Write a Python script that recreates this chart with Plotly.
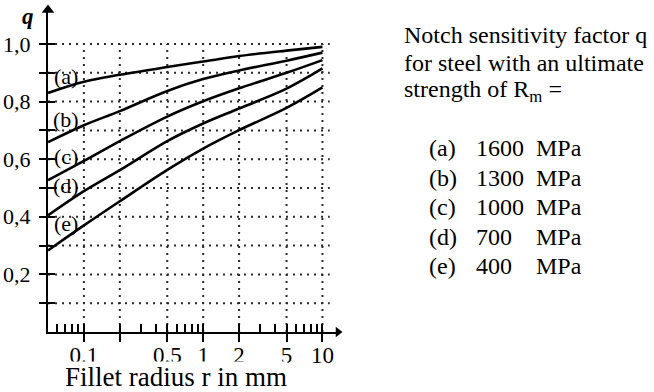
import math
import plotly.graph_objects as go

# ---------------- data ----------------
r_mm = [0.05, 0.1, 0.2, 0.5, 1, 2, 5, 10]
q_a = [0.830, 0.869, 0.893, 0.920, 0.939, 0.958, 0.977, 0.990]
q_b = [0.659, 0.718, 0.767, 0.837, 0.878, 0.908, 0.942, 0.970]
q_c = [0.527, 0.594, 0.663, 0.748, 0.801, 0.846, 0.900, 0.944]
q_d = [0.405, 0.489, 0.562, 0.663, 0.724, 0.776, 0.845, 0.915]
q_e = [0.283, 0.370, 0.454, 0.563, 0.637, 0.701, 0.778, 0.849]

curve_labels = ["(a)", "(b)", "(c)", "(d)", "(e)"]
strengths = ["1600", "1300", "1000", "700", "400"]
unit = "MPa"

x_major = [0.1, 0.2, 0.5, 1, 2, 5, 10]
x_major_text = ["0.1", " ", "0.5", "1", "2", "5", "10"]
x_minor = [0.06, 0.07, 0.08, 0.09, 0.3, 0.4, 0.6, 0.7, 0.8, 0.9, 3, 4, 6, 7, 8, 9]
y_ticks = [0.1, 0.2, 0.3, 0.4, 0.5, 0.6, 0.7, 0.8, 0.9, 1.0]
y_tick_text = [" ", "0,2", " ", "0,4", " ", "0,6", " ", "0,8", " ", "1,0"]

x_axis_min, x_axis_max = 0.05, 13.5
y_axis_min, y_axis_max = 0.0, 1.118
grid_x_end = 11.5
grid_y_end = 1.0

# ---------------- layout geometry ----------------
W, H = 654, 392
L, R, T, B = 48, 316, 10, 60
PW, PH = W - L - R, H - T - B


def px(x, y):
    return (x - L) / PW, (H - B - y) / PH


SERIF = "Liberation Serif, Times New Roman, serif"
fig = go.Figure()

# dotted grid (main subplot)
gx, gy = [], []
for yv in y_ticks:
    gx += [x_axis_min, grid_x_end, None]
    gy += [yv, yv, None]
for xv in x_major:
    gx += [xv, xv, None]
    gy += [y_axis_min, grid_y_end, None]
fig.add_trace(go.Scatter(x=gx, y=gy, mode="lines", hoverinfo="skip",
                         line=dict(color="#2a2a2a", width=2, dash="2px,5px"),
                         showlegend=False, xaxis="x", yaxis="y"))

# curves (overlay subplot so they sit on top)
for qs in [q_a, q_b, q_c, q_d, q_e]:
    fig.add_trace(go.Scatter(x=r_mm, y=qs, mode="lines", line_shape="spline",
                             line=dict(color="black", width=2.6, smoothing=1.0),
                             showlegend=False, xaxis="x2", yaxis="y2"))

# axis arrowheads
fig.add_trace(go.Scatter(x=[x_axis_min], y=[y_axis_max], mode="markers",
                         marker=dict(symbol="triangle-up", size=11, color="black"),
                         cliponaxis=False, showlegend=False, xaxis="x2", yaxis="y2"))
fig.add_trace(go.Scatter(x=[x_axis_max], y=[y_axis_min], mode="markers",
                         marker=dict(symbol="triangle-right", size=9, color="black"),
                         cliponaxis=False, showlegend=False, xaxis="x2", yaxis="y2"))

xr = [math.log10(x_axis_min), math.log10(x_axis_max)]
yr = [y_axis_min, y_axis_max]

fig.update_layout(
    width=W, height=H,
    margin=dict(l=L, r=R, t=T, b=B, autoexpand=False),
    paper_bgcolor="white", plot_bgcolor="white",
    font=dict(family=SERIF, color="black"),
    xaxis=dict(type="log", range=xr, showline=True, linecolor="black", linewidth=2,
               automargin=False, showgrid=False, zeroline=False, ticks="outside",
               ticklen=8, tickwidth=2, tickcolor="black", tickvals=x_major,
               ticktext=x_major_text, ticklabelstandoff=-7,
               tickfont=dict(family=SERIF, size=23, color="black")),
    yaxis=dict(range=yr, showline=True, linecolor="black", linewidth=2,
               automargin=False, showgrid=False, zeroline=False, ticks="outside",
               ticklen=7, tickwidth=2, tickcolor="black", tickvals=y_ticks,
               ticktext=y_tick_text, ticklabelstandoff=4,
               tickfont=dict(family=SERIF, size=22, color="black")),
    xaxis2=dict(type="log", range=xr, overlaying="x", anchor="y2", side="bottom",
                automargin=False, showline=False, showgrid=False, zeroline=False,
                ticks="inside", ticklen=8, tickwidth=2, tickcolor="black",
                tickvals=x_major, showticklabels=False,
                minor=dict(tickvals=x_minor, ticks="inside", ticklen=8, tickwidth=1.5,
                           tickcolor="black", showgrid=False)),
    yaxis2=dict(range=yr, overlaying="y", anchor="x2", side="left", showline=False,
                automargin=False, showgrid=False, zeroline=False, ticks="inside",
                ticklen=7, tickwidth=2, tickcolor="black", tickvals=y_ticks,
                showticklabels=False),
)

ann = []


def add_text(text, x, y, size, xanchor="center", **kw):
    ax_, ay_ = px(x, y)
    ann.append(dict(text=text, x=ax_, y=ay_, xref="paper", yref="paper",
                    showarrow=False, xanchor=xanchor, yanchor="middle",
                    font=dict(family=SERIF, size=size), **kw))


# q axis label
add_text("<b><i>q</i></b>", 28, 17, 23)
# x title (white box partly covering tick labels like the reference)
add_text("Fillet radius r in mm", 176, 377, 27, bgcolor="white", borderpad=0)
# curve labels
label_y = [76, 119, 156, 185, 223]
for lab, ly in zip(curve_labels, label_y):
    add_text(lab, 66, ly, 22)
# right-hand description
desc = ["Notch sensitivity factor q", "for steel with an ultimate",
        "strength of R<sub>m</sub> ="]
for i, line in enumerate(desc):
    add_text(line, 402, 35 + 28 * i, 24, xanchor="left")
for i, (lab, s) in enumerate(zip(curve_labels, strengths)):
    yy = 148 + 29.5 * i
    for xpos, txt in [(427, lab), (474, s), (534, unit)]:
        add_text(txt, xpos, yy, 24, xanchor="left")
fig.update_layout(annotations=ann)

fig.write_html("out.html", config={"displayModeBar": False},
               post_script="document.body.style.margin='0';")
